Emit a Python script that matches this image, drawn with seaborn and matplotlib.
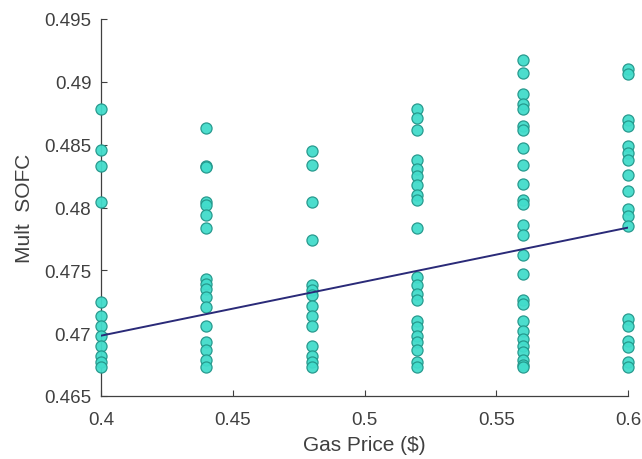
import numpy as np
import pandas as pd
import matplotlib
matplotlib.use("Agg")
import matplotlib.pyplot as plt
import seaborn as sns

# Simulated SOFC multiplier for each gas price level
gas_prices = [0.40, 0.44, 0.48, 0.52, 0.56, 0.60]

sofc_040 = [0.4878, 0.4846, 0.4833, 0.4804, 0.4725, 0.4714, 0.4706, 0.4698,
            0.4690, 0.4682, 0.4677, 0.4673]
sofc_044 = [0.4863, 0.4833, 0.4832, 0.4804, 0.4802, 0.4794, 0.4784, 0.4743,
            0.4739, 0.4735, 0.4729, 0.4721, 0.4706, 0.4693, 0.4687, 0.4679, 0.4673]
sofc_048 = [0.4845, 0.4834, 0.4804, 0.4774, 0.4738, 0.4734, 0.4730, 0.4722,
            0.4714, 0.4706, 0.4690, 0.4682, 0.4677, 0.4673]
sofc_052 = [0.4878, 0.4871, 0.4862, 0.4838, 0.4831, 0.4825, 0.4818, 0.4810,
            0.4806, 0.4784, 0.4745, 0.4738, 0.4731, 0.4726, 0.4710, 0.4705,
            0.4698, 0.4693, 0.4687, 0.4677, 0.4673]
sofc_056 = [0.4917, 0.4907, 0.4890, 0.4882, 0.4878, 0.4865, 0.4862, 0.4847,
            0.4834, 0.4819, 0.4806, 0.4803, 0.4786, 0.4778, 0.4762, 0.4747,
            0.4726, 0.4723, 0.4710, 0.4702, 0.4695, 0.4690, 0.4685, 0.4679,
            0.4675, 0.4673]
sofc_060 = [0.4910, 0.4906, 0.4870, 0.4865, 0.4849, 0.4843, 0.4838, 0.4826,
            0.4813, 0.4799, 0.4793, 0.4785, 0.4711, 0.4706, 0.4694, 0.4689,
            0.4677, 0.4673]

# Linear trend endpoints
fit_x = [0.40, 0.60]
fit_y = [0.4698, 0.4784]

x_ticks = [0.4, 0.45, 0.5, 0.55, 0.6]
x_tick_labels = ["0.4", "0.45", "0.5", "0.55", "0.6"]
y_ticks = [0.465, 0.47, 0.475, 0.48, 0.485, 0.49, 0.495]
y_tick_labels = ["0.465", "0.47", "0.475", "0.48", "0.485", "0.49", "0.495"]

columns = [sofc_040, sofc_044, sofc_048, sofc_052, sofc_056, sofc_060]
df = pd.DataFrame({
    "price": np.concatenate([[p] * len(c) for p, c in zip(gas_prices, columns)]),
    "sofc": np.concatenate(columns),
})
fit_df = pd.DataFrame({"price": fit_x, "sofc": fit_y})

sns.set_theme(style="white")
plt.rcParams["font.family"] = ["Liberation Sans", "DejaVu Sans"]

fig = plt.figure(figsize=(6.42, 4.60), dpi=100)
ax = fig.add_axes([101 / 642, 1 - 397 / 460, 527 / 642, 377 / 460])

sns.scatterplot(data=df, x="price", y="sofc", ax=ax, s=64,
                color="#42dccb", edgecolor="#23968a", linewidth=0.9,
                alpha=0.95, clip_on=False, zorder=3)
sns.lineplot(data=fit_df, x="price", y="sofc", ax=ax, color="#2a2a78",
             linewidth=1.4, zorder=4)

ax.set_xlim(0.4, 0.6)
ax.set_ylim(0.465, 0.495)
ax.set_xticks(x_ticks)
ax.set_xticklabels(x_tick_labels)
ax.set_yticks(y_ticks)
ax.set_yticklabels(y_tick_labels)

text_color = "#404040"
ax.tick_params(axis="both", direction="in", length=4, width=0.8,
               colors="#404040", labelcolor=text_color, labelsize=13.5,
               left=True, bottom=True)
ax.tick_params(axis="x", pad=11)
ax.tick_params(axis="y", pad=7)
for side in ["top", "right"]:
    ax.spines[side].set_visible(False)
for side in ["left", "bottom"]:
    ax.spines[side].set_color("#404040")
    ax.spines[side].set_linewidth(0.9)

ax.set_xlabel("Gas Price ($)", fontsize=15, color=text_color, labelpad=5)
ax.set_ylabel("Mult  SOFC", fontsize=15, color=text_color, labelpad=7)

fig.savefig("out.png", dpi=100)
